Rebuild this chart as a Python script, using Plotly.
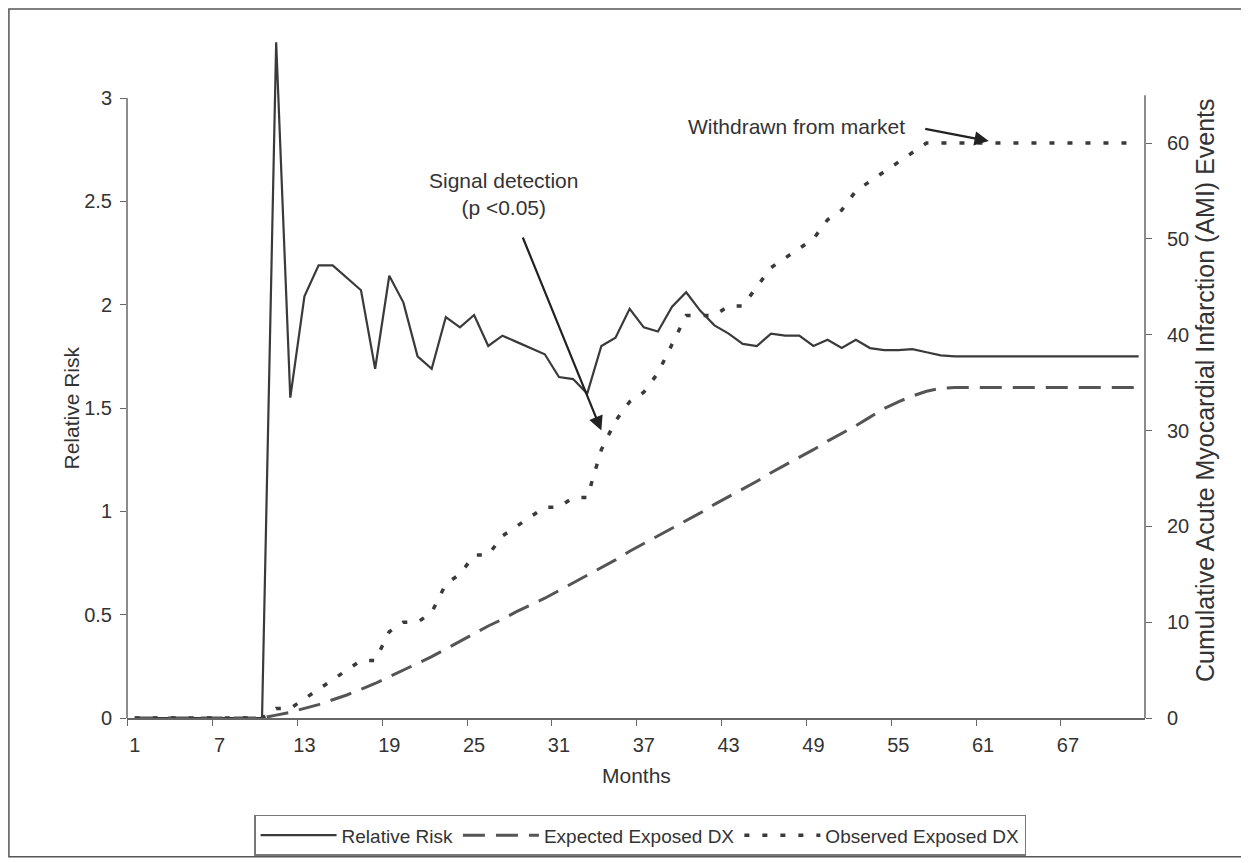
import plotly.graph_objects as go

months = list(range(1, 73))

relative_risk = [0]*10 + [
    3.27, 1.55, 2.04, 2.19, 2.19, 2.13, 2.07, 1.69, 2.14, 2.01,
    1.75, 1.69, 1.94, 1.89, 1.95, 1.80, 1.85, 1.82, 1.79, 1.76,
    1.65, 1.64, 1.57, 1.80, 1.84, 1.98, 1.89, 1.87, 1.99, 2.06,
    1.97, 1.90, 1.86, 1.81, 1.80, 1.86, 1.85, 1.85, 1.80, 1.83,
    1.79, 1.83, 1.79, 1.78, 1.78, 1.785, 1.77, 1.755] + [1.75]*14

expected_dx = [0]*10 + [
    0.3, 0.6, 1.0, 1.4, 1.9, 2.4, 3.0, 3.6, 4.3, 5.0,
    5.7, 6.4, 7.2, 8.0, 8.8, 9.6, 10.3, 11.1, 11.8, 12.5,
    13.3, 14.1, 14.9, 15.7, 16.5, 17.4, 18.2, 19.0, 19.8, 20.6,
    21.4, 22.3, 23.1, 23.9, 24.7, 25.6, 26.4, 27.2, 28.0, 28.9,
    29.7, 30.5, 31.4, 32.3, 33.0, 33.6, 34.1, 34.4] + [34.5]*14

observed_dx = [0]*10 + [
    1, 1, 2, 3, 4, 5, 6, 6, 9, 10,
    10, 11, 14, 15, 17, 17, 19, 20, 21, 22,
    22, 23, 23, 28, 31, 33, 34, 36, 39, 42,
    42, 42, 43, 43, 45, 47, 48, 49, 50, 52,
    53, 55, 56, 57, 58, 59, 60, 60] + [60]*14

x_ticks = [1, 7, 13, 19, 25, 31, 37, 43, 49, 55, 61, 67]
left_ticks = [0, 0.5, 1, 1.5, 2, 2.5, 3]
left_labels = ["0", "0.5", "1", "1.5", "2", "2.5", "3"]
right_ticks = [0, 10, 20, 30, 40, 50, 60]

FONT = "Liberation Sans, Arial, sans-serif"
TXT = "#333333"
LINE = "#3a3a3a"
AX = "#666666"

fig = go.Figure()
fig.add_trace(go.Scatter(x=months, y=relative_risk, name="Relative Risk",
                         mode="lines", line=dict(color=LINE, width=2.2),
                         yaxis="y"))
fig.add_trace(go.Scatter(x=months, y=expected_dx, name="Expected Exposed DX",
                         mode="lines", line=dict(color="#555555", width=3, dash="22px,11px"),
                         yaxis="y2"))
fig.add_trace(go.Scatter(x=months, y=observed_dx, name="Observed Exposed DX",
                         mode="lines", line=dict(color=LINE, width=3.5, dash="5px,13px"),
                         yaxis="y2"))

fig.update_layout(
    width=1241, height=870,
    margin=dict(l=119, r=104, t=28, b=160),
    paper_bgcolor="white", plot_bgcolor="white",
    font=dict(family=FONT, size=20, color=TXT),
    showlegend=True,
    legend=dict(orientation="h", x=0.504, xanchor="center", y=-0.142, yanchor="top",
                bordercolor="#777777", borderwidth=1.5, font=dict(size=19, color=TXT),
                itemwidth=76, tracegroupgap=0),
    xaxis=dict(range=[0.45, 72.45], tickmode="array", tickvals=x_ticks,
               ticks="outside", ticklen=8, tickcolor="rgba(0,0,0,0)",
               showline=True, linecolor=AX, linewidth=1.5,
               showgrid=False, zeroline=False,
               minor=dict(tick0=0.5, dtick=6, ticks="outside", ticklen=6,
                          tickcolor=AX, tickwidth=1.2, showgrid=False)),
    yaxis=dict(range=[0, 3.30], tickmode="array", tickvals=left_ticks, ticktext=left_labels,
               ticks="outside", ticklen=6, tickcolor=AX, tickwidth=1.2,
               ticklabelstandoff=4,
               showline=False, showgrid=False, zeroline=False),
    yaxis2=dict(range=[0, 71.17], overlaying="y", side="right", tickmode="array",
                tickvals=right_ticks, ticks="outside", ticklen=6, tickcolor=AX,
                tickwidth=1.2, ticklabelstandoff=11,
                showline=False, showgrid=False, zeroline=False),
)

# axis titles
fig.add_annotation(x=0.5, y=-0.0836, xref="paper", yref="paper", text="Months",
                   showarrow=False, font=dict(size=21, color=TXT), yanchor="middle")
fig.add_annotation(x=-0.0678, y=0.4545, xref="paper", yref="paper", text="Relative Risk",
                   textangle=-90, showarrow=False, font=dict(size=21, color=TXT))
fig.add_annotation(x=1.0747, y=0.481, xref="paper", yref="paper",
                   text="Cumulative Acute Myocardial Infarction (AMI) Events",
                   textangle=-90, showarrow=False, font=dict(size=25, color=TXT))

# axis lines (left ends at 3, right ends at 65 like the original)
fig.add_shape(type="line", xref="paper", yref="y", x0=0, x1=0, y0=0, y1=3,
              line=dict(color=AX, width=1.5))
fig.add_shape(type="line", xref="paper", yref="y2", x0=1, x1=1, y0=0, y1=65,
              line=dict(color=AX, width=1.5))
# outer frame
fig.add_shape(type="rect", xref="paper", yref="paper",
              x0=-0.1160, x1=1.0975, y0=-0.2035, y1=1.0396,
              line=dict(color="#555555", width=1.5))

# annotations
fig.add_annotation(x=27.1, y=2.535, xref="x", yref="y", text="Signal detection<br>(p <0.05)",
                   showarrow=False, font=dict(size=21, color=TXT), align="center")
fig.add_annotation(x=34.0, y=30.0, xref="x", yref="y2", ax=28.4, ay=50.3,
                   axref="x", ayref="y2", text="", showarrow=True,
                   arrowhead=2, arrowsize=1.3, arrowwidth=2.2, arrowcolor="#222222")
fig.add_annotation(x=47.8, y=61.7, xref="x", yref="y2", text="Withdrawn from market",
                   showarrow=False, font=dict(size=21, color=TXT))
fig.add_annotation(x=61.4, y=60.2, xref="x", yref="y2", ax=56.8, ay=61.5,
                   axref="x", ayref="y2", text="", showarrow=True,
                   arrowhead=2, arrowsize=1.3, arrowwidth=2.2, arrowcolor="#222222")

fig.write_html("out.html")
